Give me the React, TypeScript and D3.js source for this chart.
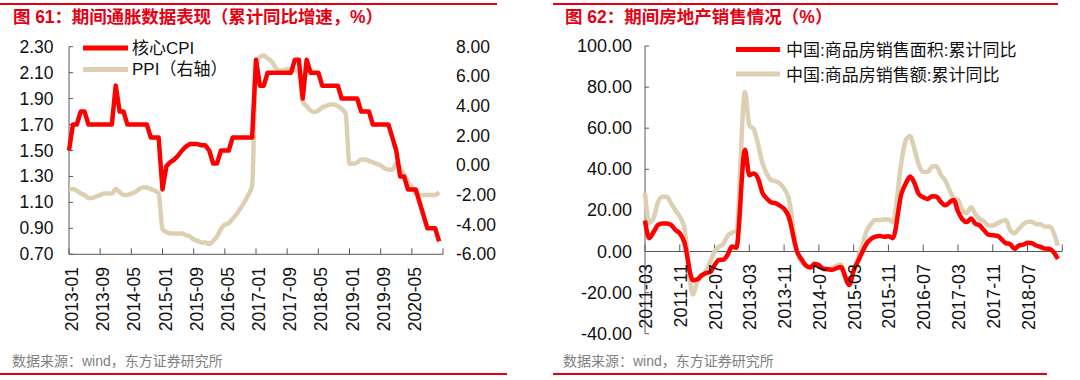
import React from 'react';
import * as d3 from 'd3';

// ---------- Left chart data (monthly, 2013-01 .. 2020-12) ----------
const cpiLabels = ['2013-01', '2013-09', '2014-05', '2015-01', '2015-09', '2016-05', '2017-01', '2017-09', '2018-05', '2019-01', '2019-09', '2020-05'];
const coreCPI = [
  1.5, 1.7, 1.7, 1.8, 1.8, 1.7, 1.7, 1.7, 1.7, 1.7, 1.7, 1.7,
  2.0, 1.8, 1.8, 1.7, 1.7, 1.7, 1.7, 1.7, 1.7, 1.6, 1.6, 1.6,
  1.2, 1.38, 1.41, 1.43, 1.46, 1.5, 1.53, 1.55, 1.55, 1.55, 1.54, 1.54,
  1.5, 1.4, 1.4, 1.5, 1.5, 1.5, 1.6, 1.6, 1.6, 1.6, 1.6, 1.6,
  2.2, 2.0, 2.0, 2.1, 2.1, 2.1, 2.1, 2.1, 2.1, 2.1, 2.2, 2.2,
  1.9, 2.2, 2.1, 2.1, 2.1, 2.0, 2.0, 2.0, 2.0, 2.0, 1.9, 1.9,
  1.9, 1.9, 1.9, 1.8, 1.8, 1.8, 1.7, 1.7, 1.7, 1.7, 1.7, 1.6,
  1.5, 1.3, 1.3, 1.2, 1.2, 1.2, 1.1, 1.0, 0.9, 0.9, 0.9, 0.8,
];
const ppi = [
  -1.6, -1.6, -1.7, -1.9, -2.0, -2.2, -2.2, -2.1, -2.0, -1.9, -1.9, -1.9,
  -1.6, -1.8, -2.0, -2.0, -1.9, -1.8, -1.6, -1.5, -1.5, -1.6, -1.7, -1.9,
  -4.3, -4.5, -4.6, -4.6, -4.6, -4.6, -4.7, -4.8, -5.0, -5.1, -5.2, -5.2,
  -5.3, -5.1, -4.8, -4.3, -4.0, -3.9, -3.6, -3.3, -2.9, -2.5, -2.0, -1.4,
  6.9, 7.3, 7.4, 7.2, 7.0, 6.6, 6.4, 6.4, 6.5, 6.5, 6.4, 6.3,
  4.3, 4.0, 3.7, 3.6, 3.7, 3.9, 4.0, 4.1, 4.1, 4.0, 3.8, 3.5,
  0.1, 0.1, 0.2, 0.4, 0.4, 0.3, 0.2, 0.1, 0.0, -0.2, -0.3, -0.3,
  0.1, -0.2, -0.6, -1.1, -1.5, -1.9, -2.0, -2.0, -2.0, -2.0, -2.0, -1.8,
];
const cpiTicks = [0.7, 0.9, 1.1, 1.3, 1.5, 1.7, 1.9, 2.1, 2.3];
const ppiTicks = [-6, -4, -2, 0, 2, 4, 6, 8];

// ---------- Right chart data (cumulative, Jan not published) ----------
const salesMonths = [
  '2011-03', '2011-04', '2011-05', '2011-06', '2011-07', '2011-08', '2011-09', '2011-10', '2011-11', '2011-12',
  '2012-02', '2012-03', '2012-04', '2012-05', '2012-06', '2012-07', '2012-08', '2012-09', '2012-10', '2012-11', '2012-12',
  '2013-02', '2013-03', '2013-04', '2013-05', '2013-06', '2013-07', '2013-08', '2013-09', '2013-10', '2013-11', '2013-12',
  '2014-02', '2014-03', '2014-04', '2014-05', '2014-06', '2014-07', '2014-08', '2014-09', '2014-10', '2014-11', '2014-12',
  '2015-02', '2015-03', '2015-04', '2015-05', '2015-06', '2015-07', '2015-08', '2015-09', '2015-10', '2015-11', '2015-12',
  '2016-02', '2016-03', '2016-04', '2016-05', '2016-06', '2016-07', '2016-08', '2016-09', '2016-10', '2016-11', '2016-12',
  '2017-02', '2017-03', '2017-04', '2017-05', '2017-06', '2017-07', '2017-08', '2017-09', '2017-10', '2017-11', '2017-12',
  '2018-02', '2018-03', '2018-04', '2018-05', '2018-06', '2018-07', '2018-08', '2018-09', '2018-10', '2018-11', '2018-12',
  '2019-02',
];
const salesArea = [
  15.0, 6.5, 9.6, 12.9, 13.6, 13.6, 12.9, 10.5, 8.8, 4.9,
  -14.0, -13.6, -11.6, -10.5, -10.0, -6.7, -4.1, -4.0, -1.6, 2.4, 1.8,
  49.5, 37.1, 38.0, 35.6, 28.7, 25.8, 24.0, 23.5, 22.3, 20.8, 17.3,
  -0.1, -3.8, -6.8, -7.8, -6.0, -6.7, -8.3, -8.6, -8.9, -8.2, -7.6,
  -16.3, -9.2, -4.8, -0.2, 3.9, 6.1, 7.2, 7.5, 7.2, 7.4, 6.5,
  28.2, 33.1, 36.5, 33.2, 27.9, 26.4, 25.5, 26.9, 26.8, 24.3, 22.5,
  25.1, 19.5, 15.7, 14.3, 16.1, 13.5, 12.7, 10.3, 8.2, 7.9, 7.7,
  4.1, 3.6, 1.3, 2.9, 3.3, 4.2, 4.0, 2.9, 2.2, 1.4, 1.3,
  -3.6,
];
const salesValue = [
  28.5, 14.0, 16.5, 24.1, 26.6, 26.6, 23.5, 20.0, 17.0, 12.1,
  -20.9, -14.9, -12.5, -9.5, -5.0, -0.1, 2.3, 3.6, 7.6, 9.1, 10.0,
  77.6, 61.4, 59.6, 52.4, 43.2, 37.9, 34.8, 34.2, 33.1, 30.6, 26.3,
  -0.1, -5.2, -7.0, -7.8, -6.7, -6.6, -8.9, -8.5, -8.0, -7.0, -6.3,
  -15.8, -9.3, -3.1, 3.0, 10.0, 13.4, 15.3, 15.3, 15.6, 15.6, 14.4,
  43.6, 54.1, 56.2, 49.7, 42.1, 38.7, 38.7, 41.3, 41.6, 37.5, 34.8,
  26.1, 25.1, 20.2, 18.6, 21.5, 18.2, 15.8, 14.6, 12.6, 12.6, 13.7,
  15.3, 10.4, 8.9, 11.0, 13.2, 14.5, 14.5, 13.3, 13.3, 12.1, 12.2,
  2.8,
];
const salesLabels = ['2011-03', '2011-11', '2012-07', '2013-03', '2013-11', '2014-07', '2015-03', '2015-11', '2016-07', '2017-03', '2017-11', '2018-07'];
const salesTicks = [-40, -20, 0, 20, 40, 60, 80, 100];

const RED = '#ff0000';
const TAN = '#ddd0b2';
const AXIS = '#595959';
const TITLE_RED = '#e60012';
const LATIN = "'Liberation Sans', Arial, 'Noto Sans CJK SC', sans-serif";
const CJK = "'Liberation Sans', 'Noto Sans CJK SC', sans-serif";

function LeftChart() {
  const x = d3.scaleLinear().domain([0, 96]).range([69, 443]);
  const yL = d3.scaleLinear().domain([0.7, 2.3]).range([254.3, 46.7]);
  const yR = d3.scaleLinear().domain([-6, 8]).range([254.3, 46.7]);
  const cpiLine = d3.line<number>().x((_, i) => x(i)).y((d) => yL(d));
  const ppiLine = d3.line<number>().x((_, i) => x(i)).y((d) => yR(d)).curve(d3.curveMonotoneX);
  const xTicks = d3.range(0, 97, 8);
  const y0 = yL(0.7);
  return (
    <g>
      <line x1={x(0)} x2={x(0)} y1={yL(2.3)} y2={y0} stroke={AXIS} strokeWidth={1} />
      {cpiTicks.map((t) => (
        <line key={'lt' + t} x1={x(0)} x2={x(0) + 4} y1={yL(t)} y2={yL(t)} stroke={AXIS} strokeWidth={1} />
      ))}
      <line x1={x(0)} x2={x(96)} y1={y0} y2={y0} stroke={AXIS} strokeWidth={1} />
      {xTicks.map((t) => (
        <line key={'xt' + t} x1={x(t)} x2={x(t)} y1={y0} y2={y0 - 6} stroke={AXIS} strokeWidth={1} />
      ))}
      <path d={ppiLine(ppi) || ''} fill="none" stroke={TAN} strokeWidth={4.5} strokeLinejoin="round" />
      <path d={cpiLine(coreCPI) || ''} fill="none" stroke={RED} strokeWidth={4.5} strokeLinejoin="round" />
      {cpiTicks.map((t) => (
        <text key={'ll' + t} x={53.5} y={yL(t)} textAnchor="end" dominantBaseline="central" fontSize={17.5} fontFamily={LATIN} fill="#111">
          {t.toFixed(2)}
        </text>
      ))}
      {ppiTicks.map((t) => (
        <text key={'rl' + t} x={456} y={yR(t)} textAnchor="start" dominantBaseline="central" fontSize={17.5} fontFamily={LATIN} fill="#111">
          {t.toFixed(2)}
        </text>
      ))}
      {cpiLabels.map((lab, i) => {
        const tx = x(i * 8) + 3;
        const ty = 267;
        return (
          <text key={lab} x={tx} y={ty} transform={`rotate(-90 ${tx} ${ty})`} textAnchor="end" dominantBaseline="central" fontSize={17.5} fontFamily={LATIN} fill="#111">
            {lab}
          </text>
        );
      })}
      <line x1={83} x2={128} y1={48} y2={48} stroke={RED} strokeWidth={5} />
      <text x={132} y={48} dominantBaseline="central" fontSize={17} fontFamily={CJK} fill="#111">核心CPI</text>
      <line x1={83} x2={128} y1={69.5} y2={69.5} stroke={TAN} strokeWidth={5} />
      <text x={132} y={69.5} dominantBaseline="central" fontSize={17} fontFamily={CJK} fill="#111">PPI（右轴）</text>
    </g>
  );
}

function monthIndex(m: string) {
  const [yy, mm] = m.split('-').map(Number);
  return (yy - 2011) * 12 + (mm - 3);
}

function RightChart() {
  const x = d3.scaleLinear().domain([0, 96]).range([645, 1062.3]);
  const y = d3.scaleLinear().domain([-40, 100]).range([333.7, 46]);
  const idx = salesMonths.map(monthIndex);
  const line = d3.line<number>().x((_, i) => x(idx[i])).y((d) => y(d)).curve(d3.curveMonotoneX);
  const xTicks = d3.range(0, 97, 8);
  const y0 = y(0);
  return (
    <g>
      <line x1={x(0)} x2={x(0)} y1={y(100)} y2={y(-40)} stroke={AXIS} strokeWidth={1} />
      {salesTicks.map((t) => (
        <line key={'st' + t} x1={x(0)} x2={x(0) + 4} y1={y(t)} y2={y(t)} stroke={AXIS} strokeWidth={1} />
      ))}
      <line x1={x(0)} x2={x(96)} y1={y0} y2={y0} stroke={AXIS} strokeWidth={1} />
      {xTicks.map((t) => (
        <line key={'sx' + t} x1={x(t)} x2={x(t)} y1={y0} y2={y0 - 7} stroke={AXIS} strokeWidth={1} />
      ))}
      <path d={line(salesValue) || ''} fill="none" stroke={TAN} strokeWidth={4.5} strokeLinejoin="round" />
      <path d={line(salesArea) || ''} fill="none" stroke={RED} strokeWidth={4.5} strokeLinejoin="round" />
      {salesTicks.map((t) => (
        <text key={'sl' + t} x={632} y={y(t)} textAnchor="end" dominantBaseline="central" fontSize={18} fontFamily={LATIN} fill="#111">
          {t.toFixed(2)}
        </text>
      ))}
      {salesLabels.map((lab, i) => {
        const tx = x(i * 8) + 1;
        const ty = 264;
        return (
          <text key={lab} x={tx} y={ty} transform={`rotate(-90 ${tx} ${ty})`} textAnchor="end" dominantBaseline="central" fontSize={18} fontFamily={LATIN} fill="#111">
            {lab}
          </text>
        );
      })}
      <line x1={736} x2={780} y1={49.5} y2={49.5} stroke={RED} strokeWidth={5} />
      <text x={786} y={50} dominantBaseline="central" fontSize={17} fontFamily={CJK} fill="#111">中国:商品房销售面积:累计同比</text>
      <line x1={736} x2={780} y1={74} y2={74} stroke={TAN} strokeWidth={5} />
      <text x={786} y={75} dominantBaseline="central" fontSize={17} fontFamily={CJK} fill="#111">中国:商品房销售额:累计同比</text>
    </g>
  );
}

export default function App() {
  return (
    <svg width={1080} height={380} style={{ position: 'absolute', left: 0, top: 0, background: '#fff' }}>
      <rect x={0} y={0} width={1080} height={380} fill="#fff" />
      <line x1={0} x2={497} y1={4} y2={4} stroke={TITLE_RED} strokeWidth={2} />
      <line x1={553} x2={1058} y1={4} y2={4} stroke={TITLE_RED} strokeWidth={2} />
      <line x1={0} x2={507} y1={374} y2={374} stroke={TITLE_RED} strokeWidth={2} />
      <line x1={553} x2={1047} y1={374} y2={374} stroke={TITLE_RED} strokeWidth={2} />
      <text x={13} y={23} fontSize={17.5} fontWeight="bold" fontFamily={CJK} fill={TITLE_RED} textLength={370} lengthAdjust="spacing">图 61：期间通胀数据表现（累计同比增速，%）</text>
      <text x={565} y={23} fontSize={17.5} fontWeight="bold" fontFamily={CJK} fill={TITLE_RED}>图 62：期间房地产销售情况（%）</text>
      <LeftChart />
      <RightChart />
      <text x={12} y={366} fontSize={14} fontFamily={CJK} fill="#808080">数据来源：wind，东方证券研究所</text>
      <text x={563} y={366} fontSize={14} fontFamily={CJK} fill="#808080">数据来源：wind，东方证券研究所</text>
    </svg>
  );
}
